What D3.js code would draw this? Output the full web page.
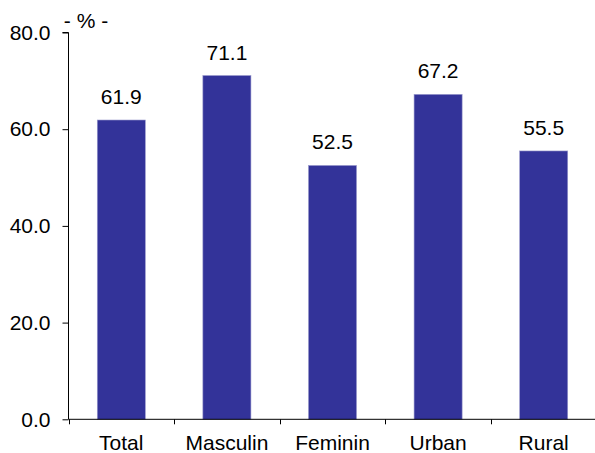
<!DOCTYPE html>
<html><head><meta charset="utf-8">
<script src="https://cdn.jsdelivr.net/npm/d3@7"></script>
<style>body{margin:0;background:#fff}text{font-family:"Liberation Sans",Arial,sans-serif;fill:#000}</style>
</head><body><svg id="c" width="595" height="453"></svg>
<script>
const categories = ["Total","Masculin","Feminin","Urban","Rural"];
const values = [61.9,71.1,52.5,67.2,55.5];
const yTicks = [0,20,40,60,80];
const unitLabel = "- % -";

const svg = d3.select("#c");
const x = d3.scaleBand().domain(categories).range([68.5,596.5]).paddingInner(0.545).paddingOuter(0.2725);
const y = d3.scaleLinear().domain([0,80]).range([419.3,32.5]);

const fs = "21px";
// bars
svg.selectAll("rect.bar").data(values).join("rect")
  .attr("x",(d,i)=>x(categories[i])).attr("width",x.bandwidth())
  .attr("y",d=>y(d)).attr("height",d=>y(0)-y(d))
  .attr("fill","#333399").attr("stroke","#9999cc").attr("stroke-width",0.6);
// value labels
svg.selectAll("text.val").data(values).join("text")
  .attr("x",(d,i)=>x(categories[i])+x.bandwidth()/2).attr("y",d=>y(d)-16)
  .attr("text-anchor","middle").style("font-size",fs).text(d=>d.toFixed(1));
// y axis
const ya = svg.append("g").attr("transform","translate(68.5,0)")
  .call(d3.axisLeft(y).tickValues(yTicks).tickFormat(d3.format(".1f")).tickSize(6).tickPadding(12));
ya.select(".domain").attr("stroke","#000").attr("d","M-6,32.5H0V419.3");
ya.selectAll(".tick line").attr("stroke","#000");
ya.selectAll(".tick text").style("font-size",fs).attr("font-family",null).attr("fill","#000");
ya.attr("font-family",null);
// x axis
const xs = d3.scaleLinear().domain([0,5]).range([68.5,596.5]);
const xa = svg.append("g").attr("transform","translate(0,419.3)");
xa.append("line").attr("x1",68.5).attr("x2",595).attr("stroke","#000");
xa.selectAll("line.t").data(d3.range(0,6)).join("line").attr("class","t")
  .attr("x1",d=>Math.round(xs(d))+0.5).attr("x2",d=>Math.round(xs(d))+0.5).attr("y1",0).attr("y2",5).attr("stroke","#000");
xa.selectAll("text").data(categories).join("text")
  .attr("x",d=>x(d)+x.bandwidth()/2).attr("y",31).attr("text-anchor","middle").style("font-size",fs).text(d=>d);
// unit label
svg.append("text").attr("x",86).attr("y",28).attr("text-anchor","middle").style("font-size",fs).text(unitLabel);
</script></body></html>
